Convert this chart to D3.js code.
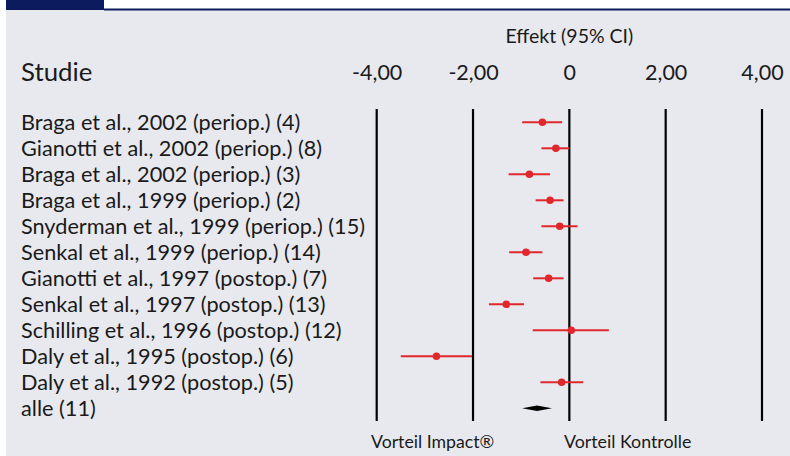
<!DOCTYPE html>
<html><head><meta charset="utf-8">
<script src="https://cdn.jsdelivr.net/npm/d3@7"></script>
<style>html,body{margin:0;padding:0;background:#fff;}svg{display:block;}</style>
</head><body>
<svg id="c" width="790" height="456"></svg>
<script>
const studies = [
  "Braga et al., 2002 (periop.) (4)",
  "Gianotti et al., 2002 (periop.) (8)",
  "Braga et al., 2002 (periop.) (3)",
  "Braga et al., 1999 (periop.) (2)",
  "Snyderman et al., 1999 (periop.) (15)",
  "Senkal et al., 1999 (periop.) (14)",
  "Gianotti et al., 1997 (postop.) (7)",
  "Senkal et al., 1997 (postop.) (13)",
  "Schilling et al., 1996 (postop.) (12)",
  "Daly et al., 1995 (postop.) (6)",
  "Daly et al., 1992 (postop.) (5)"
];
const effect = [-0.56, -0.28, -0.83, -0.40, -0.20, -0.90, -0.43, -1.31, 0.04, -2.76, -0.16];
const ciLow  = [-0.98, -0.58, -1.26, -0.70, -0.58, -1.25, -0.75, -1.67, -0.76, -3.50, -0.60];
const ciHigh = [-0.15, 0.00, -0.40, -0.12, 0.17, -0.56, -0.12, -0.94, 0.82, -2.02, 0.29];
const pooledLabel = "alle (11)";
const pooled = {est: -0.67, low: -0.98, high: -0.36};
const tickValues = [-4, -2, 0, 2, 4];
const tickLabels = ["-4,00", "-2,00", "0", "2,00", "4,00"];

const svg = d3.select("#c");
const W = 790, H = 456;
const font = "Lato, 'DejaVu Sans', sans-serif";
const textCol = "#1a1a1a";

// background & header
svg.append("rect").attr("x", 6).attr("y", 0).attr("width", W - 6).attr("height", H).attr("fill", "#e8e9ef");
svg.append("rect").attr("x", 104).attr("y", 0).attr("width", W - 104).attr("height", 9).attr("fill", "#ffffff");
svg.append("rect").attr("x", 6).attr("y", 0).attr("width", 98).attr("height", 10).attr("fill", "#0c1a5e");
svg.append("rect").attr("x", 104).attr("y", 8.5).attr("width", W - 104).attr("height", 2).attr("fill", "#0c1a5e");

const x = d3.scaleLinear().domain([-4, 4]).range([376.7, 762]);
const rows = studies.concat([pooledLabel]);
const y = d3.scalePoint().domain(d3.range(rows.length)).range([122.3, 408.3]);

// column headers
svg.append("text").attr("x", 21).attr("y", 80.5).text("Studie")
  .attr("font-family", font).attr("font-size", 25.8).attr("fill", textCol);
svg.append("text").attr("x", x(0)).attr("y", 43).attr("text-anchor", "middle").text("Effekt (95% CI)")
  .attr("font-family", font).attr("font-size", 19.5).attr("fill", textCol);

// axis tick labels via d3 axis
const axis = d3.axisTop(x).tickValues(tickValues).tickFormat((d, i) => tickLabels[i]).tickSize(0).tickPadding(0);
const ag = svg.append("g").attr("transform", "translate(0,80)").call(axis);
ag.select(".domain").remove();
ag.selectAll("text").attr("font-family", font).attr("font-size", 21.5).attr("fill", textCol).attr("dy", 0);

// vertical grid lines
svg.append("g").selectAll("line").data(tickValues).join("line")
  .attr("x1", d => x(d)).attr("x2", d => x(d))
  .attr("y1", 109).attr("y2", 421)
  .attr("stroke", "#000").attr("stroke-width", 2.2);

// study labels
svg.append("g").selectAll("text").data(rows).join("text")
  .attr("x", 21).attr("y", (d, i) => y(i) + 7.8)
  .text(d => d)
  .attr("font-family", font).attr("font-size", 21.7).attr("fill", textCol);

// CIs
const red = "#e0282c";
const g = svg.append("g");
g.selectAll("line.ci").data(effect).join("line").attr("class", "ci")
  .attr("x1", (d, i) => x(ciLow[i])).attr("x2", (d, i) => x(ciHigh[i]))
  .attr("y1", (d, i) => y(i)).attr("y2", (d, i) => y(i))
  .attr("stroke", red).attr("stroke-width", 2);
g.selectAll("circle").data(effect).join("circle")
  .attr("cx", d => x(d)).attr("cy", (d, i) => y(i)).attr("r", 3.8).attr("fill", red);

// pooled diamond
const py = y(rows.length - 1);
svg.append("path")
  .attr("d", `M${x(pooled.low)},${py} L${x(pooled.est)},${py - 2.8} L${x(pooled.high)},${py} L${x(pooled.est)},${py + 2.8} Z`)
  .attr("fill", "#000");

// bottom labels
svg.append("text").attr("x", 371).attr("y", 448).text("Vorteil Impact®")
  .attr("font-family", font).attr("font-size", 17.7).attr("fill", textCol);
svg.append("text").attr("x", 564).attr("y", 448).text("Vorteil Kontrolle")
  .attr("font-family", font).attr("font-size", 17.8).attr("fill", textCol);
</script>
</body></html>
